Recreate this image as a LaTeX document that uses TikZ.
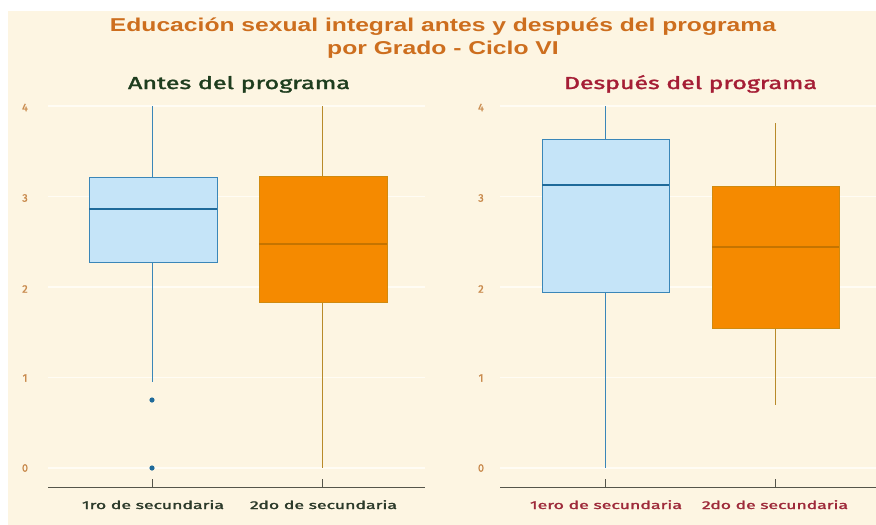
\documentclass[tikz,border=0pt]{standalone}
\usepackage{fontspec}
\setmainfont{Liberation Sans}
\newfontfamily\hand[FakeBold=1.6]{Fira Sans}
\usepackage{graphicx}
\definecolor{bgc}{HTML}{FDF5E2}
\definecolor{gridc}{HTML}{FFFCF4}
\definecolor{titlec}{HTML}{CD6E1E}
\definecolor{antesc}{HTML}{1E3D1E}
\definecolor{antesx}{HTML}{2C3A2A}
\definecolor{despc}{HTML}{A51D35}
\definecolor{despx}{HTML}{9E2A3A}
\definecolor{ytc}{HTML}{C98B4E}
\definecolor{bluefill}{HTML}{C5E4F8}
\definecolor{blueedge}{HTML}{3A86B8}
\definecolor{bluemed}{HTML}{1F6A9A}
\definecolor{orfill}{HTML}{F58A00}
\definecolor{oredge}{HTML}{D08A10}
\definecolor{ormed}{HTML}{C57400}
\definecolor{orwhisk}{HTML}{B88A2A}
\definecolor{axisc}{HTML}{55554A}
\newcommand{\fitt}[3]{\resizebox{#1}{#2}{\hand\vphantom{d}\smash{#3}}}
\begin{document}
\begin{tikzpicture}[x=1pt,y=-1pt,
  gridline/.style={gridc, line width=1.3pt},
  axisline/.style={axisc, line width=1pt},
  tickline/.style={axisc, line width=1pt},
  bluebox/.style={fill=bluefill, draw=blueedge, line width=0.9pt},
  orbox/.style={fill=orfill, draw=oredge, line width=0.9pt},
  bluewhisk/.style={blueedge, line width=0.9pt},
  orwhisker/.style={orwhisk, line width=0.9pt},
  bluemedian/.style={bluemed, line width=1.6pt},
  ormedian/.style={ormed, line width=1.3pt},
  ytick/.style={text=ytc, font=\hand\fontsize{11}{11}\selectfont, inner sep=0pt, anchor=center},
  xlab/.style={anchor=base, inner sep=0pt},
  titletext/.style={anchor=base, inner sep=0pt, text=titlec, font=\fontsize{18.6}{20}\selectfont\bfseries}
]
\useasboundingbox (0,0) rectangle (876,525);
\fill[white] (0,0) rectangle (876,525);
\fill[bgc] (8,11) rectangle (876,525);

% titles
\node[titletext] (t1) at (443,31) {\scalebox{1.326}[1]{Educación sexual integral antes y después del programa}};
\node[titletext] (t2) at (443,54) {\scalebox{1.326}[1]{por Grado - Ciclo VI}};
\node[xlab, text=antesc] (p1) at (239,89) {\fitt{222pt}{13pt}{Antes del programa}};
\node[xlab, text=despc] (p2) at (690.5,89) {\fitt{253pt}{13pt}{Después del programa}};

% grid lines
\foreach \yy in {468,377.5,287,196.5,106}{
  \draw[gridline] (48,\yy) -- (425,\yy);
  \draw[gridline] (500,\yy) -- (876,\yy);
}

% y tick labels
\foreach \v/\yy in {0/468,1/378,2/289,3/198,4/107.5}{
  \node[ytick] at (25,\yy) {\v};
  \node[ytick] at (481,\yy) {\v};
}

% panel 1: blue
\draw[bluewhisk] (152,106) -- (152,177);
\draw[bluewhisk] (152,262) -- (152,382);
\draw[bluebox] (89,177) rectangle (217,262);
\draw[bluemedian] (89,209) -- (217,209);
\fill[bluemed] (152,400) circle (2.6);
\fill[bluemed] (152,468) circle (2.6);

% panel 1: orange
\draw[orwhisker] (322,106) -- (322,176);
\draw[orwhisker] (322,302) -- (322,468);
\draw[orbox] (259,176) rectangle (387,302);
\draw[ormedian] (259,244) -- (387,244);

% panel 2: blue
\draw[bluewhisk] (605,106) -- (605,139);
\draw[bluewhisk] (605,292) -- (605,468);
\draw[bluebox] (542,139) rectangle (669,292);
\draw[bluemedian] (542,185) -- (669,185);

% panel 2: orange
\draw[orwhisker] (775,123) -- (775,186);
\draw[orwhisker] (775,328) -- (775,405);
\draw[orbox] (712,186) rectangle (839,328);
\draw[ormedian] (712,247) -- (839,247);

% axes
\draw[axisline] (48,487) -- (425,487);
\draw[axisline] (500,487) -- (876,487);
\foreach \xx in {152,322,605,775}{
  \draw[tickline] (\xx,479) -- (\xx,487);
}

% x labels
\node[xlab, text=antesx] (x1) at (153,509) {\fitt{142pt}{8.5pt}{1ro de secundaria}};
\node[xlab, text=antesx] (x2) at (323.5,509) {\fitt{147pt}{8.5pt}{2do de secundaria}};
\node[xlab, text=despx] (x3) at (606,509) {\fitt{152pt}{8.5pt}{1ero de secundaria}};
\node[xlab, text=despx] (x4) at (775,509) {\fitt{146pt}{8.5pt}{2do de secundaria}};
\end{tikzpicture}
\end{document}
